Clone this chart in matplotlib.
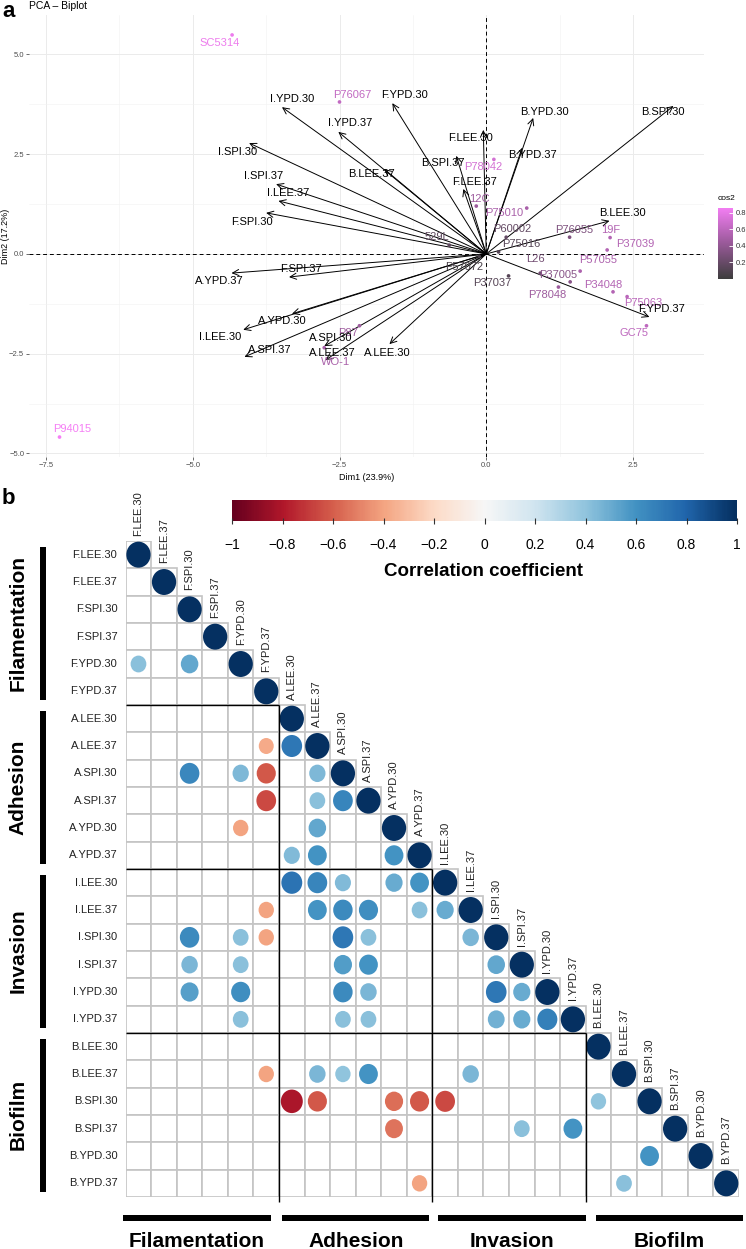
import numpy as np
import matplotlib
matplotlib.use('Agg')
import matplotlib.pyplot as plt
from matplotlib.patches import Ellipse, Rectangle
from matplotlib.colors import LinearSegmentedColormap, Normalize

plt.rcParams['font.family'] = ['Liberation Sans', 'DejaVu Sans']

# ---------------- Panel a data (PCA biplot) ----------------
var_names = ['I.YPD.30', 'I.YPD.37', 'I.SPI.30', 'I.SPI.37', 'I.LEE.37', 'F.SPI.30',
             'A.YPD.37', 'F.SPI.37', 'A.YPD.30', 'I.LEE.30', 'A.SPI.37', 'A.SPI.30',
             'A.LEE.37', 'A.LEE.30', 'F.YPD.37', 'F.YPD.30', 'B.YPD.30', 'B.SPI.30',
             'F.LEE.30', 'B.YPD.37', 'B.SPI.37', 'F.LEE.37', 'B.LEE.37', 'B.LEE.30']
var_dim1 = [-3.48, -2.52, -4.04, -3.58, -3.54, -3.75, -4.34, -3.36, -3.31, -4.14, -4.12, -2.76,
            -2.74, -1.65, 2.78, -1.60, 0.80, 3.19, -0.05, 0.61, -0.51, -0.39, -1.74, 2.10]
var_dim2 = [3.68, 3.06, 2.78, 1.75, 1.33, 1.03, -0.48, -0.58, -1.50, -1.90, -2.58, -2.31,
            -2.66, -2.26, -1.58, 3.78, 3.41, 3.71, 3.11, 2.66, 2.46, 1.63, 2.13, 0.83]

ind_names = ['SC5314', 'P76067', 'P94015', 'P78042', '12C', 'P75010', 'P60002', '529L',
             'P75016', 'P57072', 'P37037', 'P76055', '19F', 'P37039', 'P57055', 'L26',
             'P37005', 'P78048', 'P34048', 'P75063', 'GC75', 'P87', 'WO-1']
ind_dim1 = [-4.33, -2.50, -7.27, 0.13, -0.17, 0.69, 0.34, -0.63, 0.21, -0.12, 0.38, 1.42,
            2.11, 2.06, 1.60, 0.92, 1.43, 1.23, 2.16, 2.40, 2.73, -2.16, -2.76]
ind_dim2 = [5.49, 3.81, -4.59, 2.37, 1.20, 1.15, 0.42, 0.22, 0.05, -0.06, -0.55, 0.42,
            0.41, 0.10, -0.43, -0.48, -0.70, -0.83, -0.95, -1.07, -1.80, -1.80, -2.35]
ind_cos2 = [0.82, 0.62, 0.86, 0.70, 0.45, 0.50, 0.18, 0.15, 0.12, 0.06, 0.12, 0.30,
            0.55, 0.55, 0.52, 0.25, 0.35, 0.45, 0.55, 0.58, 0.60, 0.45, 0.50]

# label offsets (layout only, pixels)
var_label_off = [(10, 8), (12, 9), (-12, -9), (-13, 8), (10, 8), (-14, -9),
                 (-12, -8), (12, 8), (-10, -7), (-23, -7), (25, 7), (6, 8),
                 (7, 7), (-2, -9), (12, 8), (12, 8), (11, 6), (-11, -6),
                 (-13, -8), (10, -7), (-13, -7), (11, 7), (-13, -5), (13, 8)]
ind_label_off = [(-12, -8), (13, 7), (13, 8), (-11, -8), (3, 7), (-23, -5), (6, 8), (-12, 8),
                 (23, 8), (-15, -11), (-16, -7), (5, 7), (1, 8), (28, 6), (18, 11), (-5, 14),
                 (-12, 7), (-11, -8), (-10, 7), (16, -6), (-12, -7), (-11, -7), (11, -14)]

# ---------------- Panel b data (correlation matrix) ----------------
corr_names = ['F.LEE.30', 'F.LEE.37', 'F.SPI.30', 'F.SPI.37', 'F.YPD.30', 'F.YPD.37',
              'A.LEE.30', 'A.LEE.37', 'A.SPI.30', 'A.SPI.37', 'A.YPD.30', 'A.YPD.37',
              'I.LEE.30', 'I.LEE.37', 'I.SPI.30', 'I.SPI.37', 'I.YPD.30', 'I.YPD.37',
              'B.LEE.30', 'B.LEE.37', 'B.SPI.30', 'B.SPI.37', 'B.YPD.30', 'B.YPD.37']
groups = ['Filamentation', 'Adhesion', 'Invasion', 'Biofilm']

sig_rows = [4, 4,
            7, 7,
            8, 8, 8, 8,
            9, 9, 9,
            10, 10,
            11, 11, 11,
            12, 12, 12, 12, 12,
            13, 13, 13, 13, 13, 13,
            14, 14, 14, 14, 14, 14,
            15, 15, 15, 15, 15,
            16, 16, 16, 16, 16, 16,
            17, 17, 17, 17, 17, 17,
            19, 19, 19, 19, 19,
            20, 20, 20, 20, 20, 20,
            21, 21, 21,
            22,
            23, 23]
sig_cols = [0, 2,
            5, 6,
            2, 4, 5, 7,
            5, 7, 8,
            4, 7,
            6, 7, 10,
            6, 7, 8, 10, 11,
            5, 7, 8, 9, 11, 12,
            2, 4, 5, 8, 9, 13,
            2, 4, 8, 9, 14,
            2, 4, 8, 9, 14, 15,
            4, 8, 9, 14, 15, 16,
            5, 7, 8, 9, 13,
            6, 7, 10, 11, 12, 18,
            10, 15, 17,
            20,
            11, 19]
sig_vals = [0.42, 0.52,
            -0.38, 0.72,
            0.65, 0.45, -0.62, 0.45,
            -0.66, 0.42, 0.66,
            -0.40, 0.52,
            0.44, 0.60, 0.60,
            0.74, 0.66, 0.44, 0.50, 0.60,
            -0.40, 0.60, 0.64, 0.62, 0.42, 0.50,
            0.64, 0.42, -0.40, 0.72, 0.42, 0.46,
            0.46, 0.42, 0.56, 0.60, 0.52,
            0.55, 0.62, 0.64, 0.46, 0.72, 0.50,
            0.42, 0.42, 0.42, 0.48, 0.50, 0.68,
            -0.40, 0.46, 0.40, 0.60, 0.46,
            -0.82, -0.62, -0.56, -0.62, -0.66, 0.40,
            -0.54, 0.42, 0.60,
            0.60,
            -0.40, 0.42]
cbar_ticks = [-1, -0.8, -0.6, -0.4, -0.2, 0, 0.2, 0.4, 0.6, 0.8, 1]
cbar_labels = ['\u22121', '\u22120.8', '\u22120.6', '\u22120.4', '\u22120.2', '0',
               '0.2', '0.4', '0.6', '0.8', '1']

# ---------------- Figure ----------------
W, H = 746, 1249
fig = plt.figure(figsize=(W / 100, H / 100), dpi=100)


def rect(l, t, r, b):
    return [l / W, 1 - b / H, (r - l) / W, (b - t) / H]


def ftext(x, y, s, **kw):
    fig.text(x / W, 1 - y / H, s, **kw)


def fbar(l, t, r, b):
    fig.patches.append(Rectangle((l / W, 1 - b / H), (r - l) / W, (b - t) / H,
                                 transform=fig.transFigure, facecolor='black',
                                 edgecolor='none'))


# ----- Panel a -----
cos_cmap = LinearSegmentedColormap.from_list('cos2', ['#3E3E3E', '#9A5A9A', '#F57FF5'])
cos_norm = Normalize(0.0, 0.86)

ax = fig.add_axes(rect(29, 15, 704, 457))
ax.set_xlim(-7.79, 3.71)
ax.set_ylim(-5.09, 5.99)
for s in ax.spines.values():
    s.set_visible(False)
ax.set_xticks([-7.5, -5.0, -2.5, 0.0, 2.5])
ax.set_xticklabels(['\u22127.5', '\u22125.0', '\u22122.5', '0.0', '2.5'])
ax.set_yticks([-5.0, -2.5, 0.0, 2.5, 5.0])
ax.set_yticklabels(['\u22125.0', '\u22122.5', '0.0', '2.5', '5.0'])
ax.set_xticks([-6.25, -3.75, -1.25, 1.25], minor=True)
ax.set_yticks([-3.75, -1.25, 1.25, 3.75], minor=True)
ax.grid(True, which='major', color='#EBEBEB', lw=0.7)
ax.grid(True, which='minor', color='#F2F2F2', lw=0.4)
ax.set_axisbelow(True)
ax.tick_params(which='major', length=2, width=0.5, color='#333333', labelsize=5.5,
               labelcolor='#4D4D4D', pad=1.5)
ax.tick_params(which='minor', length=0)
ax.axhline(0, color='black', lw=0.7, ls=(0, (4, 3)), zorder=1)
ax.axvline(0, color='black', lw=0.7, ls=(0, (4, 3)), zorder=1)
ax.set_xlabel('Dim1 (23.9%)', fontsize=6.5, labelpad=3)
ftext(5.5, 236, 'Dim2 (17.2%)', fontsize=6.5, rotation=90, ha='center', va='center')

for name, x, y, off in zip(var_names, var_dim1, var_dim2, var_label_off):
    ax.annotate('', xy=(x, y), xytext=(0, 0),
                arrowprops=dict(arrowstyle='->,head_length=0.45,head_width=0.22',
                                color='black', lw=0.7, shrinkA=0, shrinkB=0,
                                mutation_scale=10), zorder=2)
    ax.annotate(name, xy=(x, y), xytext=off, textcoords='offset pixels',
                ha='center', va='center', fontsize=8, color='black', zorder=5)

ax.scatter(ind_dim1, ind_dim2, c=ind_cos2, cmap=cos_cmap, norm=cos_norm, s=7,
           zorder=3, linewidths=0)
for name, x, y, c, off in zip(ind_names, ind_dim1, ind_dim2, ind_cos2, ind_label_off):
    ax.annotate(name, xy=(x, y), xytext=off, textcoords='offset pixels',
                ha='center', va='center', fontsize=8, color=cos_cmap(cos_norm(c)),
                zorder=4)

ftext(29, 6, 'PCA \u2013 Biplot', fontsize=7.5, ha='left', va='center')
ftext(2, 1, 'a', fontsize=16, fontweight='bold', ha='left', va='top')

# cos2 legend
cax = fig.add_axes(rect(718, 208, 733, 279))
grad = np.linspace(0, 0.86, 200)[:, None]
cax.imshow(grad, cmap=cos_cmap, norm=cos_norm, aspect='auto', origin='lower',
           extent=[0, 1, 0, 0.86])
cax.set_xticks([])
cax.yaxis.tick_right()
cax.set_yticks([0.2, 0.4, 0.6, 0.8])
cax.set_yticklabels(['0.2', '0.4', '0.6', '0.8'])
cax.tick_params(axis='y', length=3, width=0.6, color='white', direction='in',
                labelsize=5.5, labelcolor='#333333', pad=2)
for s in cax.spines.values():
    s.set_visible(False)
ftext(718, 198, 'cos2', fontsize=6, ha='left', va='center')

# ----- Panel b -----
n = len(corr_names)
M = np.zeros((n, n))
np.fill_diagonal(M, 1.0)
for r, c, v in zip(sig_rows, sig_cols, sig_vals):
    M[r, c] = v

rdbu = plt.get_cmap('RdBu')
axb = fig.add_axes(rect(125.7, 541, 739, 1197))
axb.set_xlim(0, n)
axb.set_ylim(n, 0)
axb.axis('off')

for i in range(n):
    for j in range(i + 1):
        axb.add_patch(Rectangle((j, i), 1, 1, facecolor='white', edgecolor='#C4C4C4',
                                lw=1.2, zorder=1))
for i in range(n):
    for j in range(i + 1):
        v = M[i, j]
        if v != 0:
            d = 0.95 * np.sqrt(abs(v))
            axb.add_patch(Ellipse((j + 0.5, i + 0.5), d, d, facecolor=rdbu((v + 1) / 2),
                                  edgecolor='none', zorder=2))

for k in (6, 12, 18):
    axb.plot([0, k], [k, k], color='black', lw=1.0, zorder=3, clip_on=False,
             solid_capstyle='butt')
    axb.plot([k, k], [k, n + 0.2], color='black', lw=1.0, zorder=3, clip_on=False,
             solid_capstyle='butt')

for i, name in enumerate(corr_names):
    axb.text(-0.33, i + 0.5, name, ha='right', va='center', fontsize=8, color='#222222')
    axb.text(i + 0.5, i - 0.2, name, ha='center', va='bottom', rotation=90,
             fontsize=8, color='#222222')

# group bars and labels
for g, name in enumerate(groups):
    t = 541 + g * 163.9
    fbar(40, t + 6, 46, t + 159)
    ftext(18, t + 82, name, fontsize=15, fontweight='bold', rotation=90,
          ha='center', va='center')
bottom_spans = [(123, 271), (282, 429), (438, 586), (596, 743)]
bottom_cx = [197, 356, 512, 669]
for (l, r), cx, name in zip(bottom_spans, bottom_cx, groups):
    fbar(l, 1215, r, 1221)
    ftext(cx, 1247, name, fontsize=15, fontweight='bold', ha='center', va='baseline')

ftext(2, 488, 'b', fontsize=16, fontweight='bold', ha='left', va='top')

# correlation colorbar
cbx = fig.add_axes(rect(232, 500, 737, 521))
cbx.imshow(np.linspace(-1, 1, 300)[None, :], cmap=rdbu, vmin=-1, vmax=1,
           aspect='auto', extent=[-1, 1, 0, 1])
cbx.set_yticks([])
cbx.set_xticks(cbar_ticks)
cbx.set_xticklabels(cbar_labels)
cbx.tick_params(axis='x', length=4, width=0.8, direction='inout', labelsize=10,
                pad=10, color='#333333')
for s in cbx.spines.values():
    s.set_visible(False)
ftext(484, 571, 'Correlation coefficient', fontsize=13.5, fontweight='bold',
      ha='center', va='center')

fig.savefig('out.png', dpi=100)
